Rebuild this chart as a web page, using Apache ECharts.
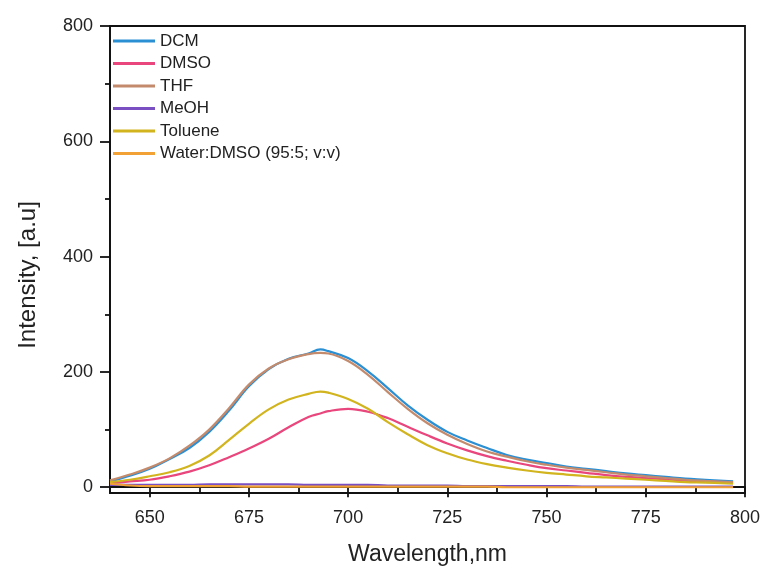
<!DOCTYPE html>
<html>
<head>
<meta charset="utf-8">
<script src="https://cdn.jsdelivr.net/npm/echarts@6/dist/echarts.min.js"></script>
<style>html,body{margin:0;padding:0;background:#fff;}#c{width:766px;height:571px;}</style>
</head>
<body>
<div id="c"></div>
<script>
const wavelengths = [640,645,650,655,660,665,670,675,680,685,690,693,695,700,705,710,715,720,725,730,735,740,745,750,755,760,765,770,775,780,785,790,797];
const dcm     = [10,20,32,49,68,96,133,175,205,223,232,239,236,224,201,172,142,117,96,81,68,56,48,42,36,32,28,24,21,18,15,13,10];
const dmso    = [7,10,13,19,27,38,52,67,84,104,122,128,132,136,131,120,105,90,76,64,54,46,39,33,29,25,21,18,16,14,11,10,8];
const thf     = [12,22,34,50,72,100,137,178,206,222,231,233,232,219,195,165,136,111,91,75,62,53,45,39,34,30,26,22,19,16,13,11,9];
const meoh    = [4,4,4,4,4,5,5,5,5,5,4,4,4,4,4,3,3,3,3,2,2,2,2,2,2,1,1,1,1,1,1,1,1];
const toluene = [9,13,19,26,37,55,82,110,135,152,162,166,164,153,136,113,92,73,59,48,40,34,29,25,22,19,17,15,13,11,9,8,6];
const water   = [6,3,2,2,2,2,2,1,1,1,1,1,1,1,1,1,1,1,1,1,1,0,0,0,0,0,0,0,0,0,0,0,0];
const seriesNames = ['DCM','DMSO','THF','MeOH','Toluene','Water:DMSO (95:5; v:v)'];
const seriesColors = ['#2b8fd3','#e8467c','#c48a6c','#7a4fc2','#d1b41e','#f2a234'];
const xMajor = [650,675,700,725,750,775,800];
const xMinor = [662.5,687.5,712.5,737.5,762.5,787.5];
const yMajor = [0,200,400,600,800];
const yMinor = [100,300,500,700];

const allData = [dcm, dmso, thf, meoh, toluene, water];
const font = 'Liberation Sans, Arial, sans-serif';
const chart = echarts.init(document.getElementById('c'));
const axisLine = {show:true, lineStyle:{color:'#111', width:1.8}};
chart.setOption({
  backgroundColor:'#ffffff',
  animation:false,
  grid:{left:110, right:21, top:26, bottom:77, show:true, borderColor:'#111', borderWidth:1.8, backgroundColor:'transparent'},
  legend:{
    left:108, top:27, orient:'vertical', icon:'rect', itemWidth:42, itemHeight:3, itemGap:4.5,
    textStyle:{fontFamily:font, fontSize:17, color:'#222', lineHeight:18},
    data: seriesNames
  },
  xAxis:[{
    type:'value', min:640, max:800, position:'bottom',
    name:'Wavelength,nm', nameLocation:'middle', nameGap:50,
    nameTextStyle:{fontFamily:font, fontSize:23, color:'#222'},
    axisLine: axisLine,
    axisTick:{show:true, length:10, inside:false, customValues:xMajor, lineStyle:{color:'#111', width:1.8}},
    axisLabel:{customValues:xMajor, fontFamily:font, fontSize:18, color:'#222', margin:16},
    splitLine:{show:false}
  },{
    type:'value', min:640, max:800, position:'bottom', offset:0,
    axisLine:{show:false},
    axisTick:{show:true, length:6, customValues:xMinor, lineStyle:{color:'#111', width:1.8}},
    axisLabel:{show:false}, splitLine:{show:false}
  }],
  yAxis:[{
    type:'value', min:-10, max:800, position:'left',
    name:'Intensity, [a.u]', nameLocation:'middle', nameGap:70, nameRotate:90,
    nameTextStyle:{fontFamily:font, fontSize:24, color:'#222', padding:[0,31,0,0]},
    axisLine: axisLine,
    axisTick:{show:true, length:10, customValues:yMajor, lineStyle:{color:'#111', width:1.8}},
    axisLabel:{customValues:yMajor, fontFamily:font, fontSize:18, color:'#222', margin:17},
    splitLine:{show:false}
  },{
    type:'value', min:-10, max:800, position:'left', offset:0,
    axisLine:{show:false},
    axisTick:{show:true, length:5, customValues:yMinor, lineStyle:{color:'#111', width:1.8}},
    axisLabel:{show:false}, splitLine:{show:false}
  }],
  series: seriesNames.map((n,i)=>({
    name:n, type:'line', xAxisIndex:0, yAxisIndex:0,
    data: wavelengths.map((w,j)=>[w, allData[i][j]]),
    showSymbol:false, smooth:0.4,
    lineStyle:{color:seriesColors[i], width:2.2},
    itemStyle:{color:seriesColors[i]}
  }))
});
</script>
</body>
</html>
